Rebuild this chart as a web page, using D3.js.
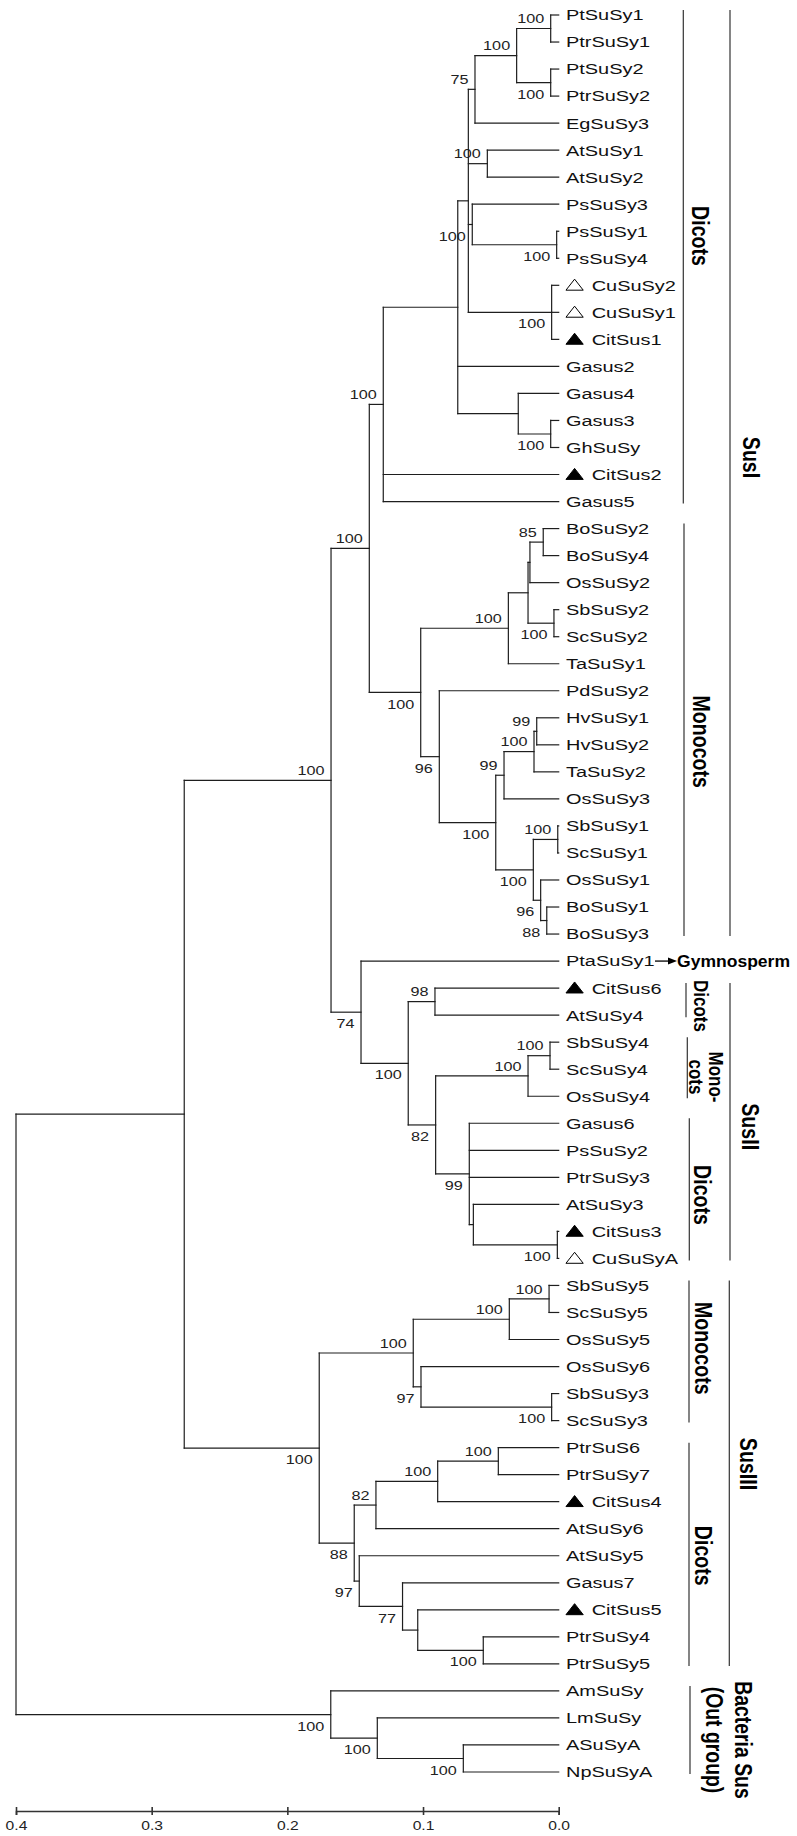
<!DOCTYPE html>
<html><head><meta charset="utf-8">
<script src="https://cdn.jsdelivr.net/npm/d3@7"></script>
<style>
body{margin:0;background:#fff}
svg{display:block}
text{font-family:"Liberation Sans",Arial,Helvetica,sans-serif}
</style></head><body>
<svg id="c" width="797" height="1836"></svg>
<script>
// ---------------- DATA ----------------
// internal nodes of the tree: id, parent, node height (distance units), bootstrap support
const nodeIds = ["root","nIn","nSusI_II","nSusIroot","nDic","nB","nA","n75","nPt","nPt1","nPt2","nAt","nPs","nPs14","nCu","nGa","nGa3Gh","nMono","nTa1","nBoSb","nBoOs","nBo24","nSbSc2","nPd","nMc2","nHvOs","nHvTa","nHvHv","nSbOsBo","nSbSc1","nOsBo","nBo13","n74","n100","nCit6At4","n82","nMonoII","nSbSc4","nDicII","nAt3Cit","nCit3Cu","nSusIII","nMonoIII","nOs5","nSbSc5","n97","nSbSc3","n88","n82b","nCit4","nPtr67","n97b","n77","nCit5","nPtr45","nOut","nLm","nNpA"];
const nodeParents = [null,"root","nIn","nSusI_II","nSusIroot","nDic","nB","nA","n75","nPt","nPt","nA","nA","nPs","nA","nB","nGa","nSusIroot","nMono","nTa1","nBoSb","nBoOs","nBoSb","nMono","nPd","nMc2","nHvOs","nHvTa","nMc2","nSbOsBo","nSbOsBo","nOsBo","nSusI_II","n74","n100","n100","n82","nMonoII","n82","nDicII","nAt3Cit","nIn","nSusIII","nMonoIII","nOs5","nMonoIII","n97","nSusIII","n88","n82b","nCit4","n88","n97b","n77","nCit5","root","nOut","nLm"];
const nodeHeights = [0.4,0.2760,0.1678,0.1396,0.1293,0.0744,0.0666,0.0617,0.0310,0.0059,0.0059,0.0526,0.0637,0.0015,0.0052,0.0298,0.0059,0.1017,0.0371,0.0226,0.0212,0.0114,0.0035,0.0880,0.0464,0.0403,0.0182,0.0162,0.0187,0.0007,0.0133,0.0088,0.1457,0.1109,0.0912,0.0907,0.0226,0.0064,0.0659,0.0629,0.0010,0.1765,0.1072,0.0364,0.0071,0.1015,0.0052,0.1507,0.1347,0.0892,0.0445,0.1470,0.1151,0.1039,0.0556,0.1680,0.1337,0.0703];
const nodeSupport = [null,null,100,100,100,null,null,75,100,100,100,100,100,100,100,null,100,100,100,null,null,85,100,96,100,99,100,99,100,100,96,88,74,100,98,82,100,100,99,null,100,100,100,100,100,97,100,88,82,100,100,97,77,null,100,100,100,100];

// leaves, top to bottom
const leafNames = ["PtSuSy1","PtrSuSy1","PtSuSy2","PtrSuSy2","EgSuSy3","AtSuSy1","AtSuSy2","PsSuSy3","PsSuSy1","PsSuSy4","CuSuSy2","CuSuSy1","CitSus1","Gasus2","Gasus4","Gasus3","GhSuSy","CitSus2","Gasus5","BoSuSy2","BoSuSy4","OsSuSy2","SbSuSy2","ScSuSy2","TaSuSy1","PdSuSy2","HvSuSy1","HvSuSy2","TaSuSy2","OsSuSy3","SbSuSy1","ScSuSy1","OsSuSy1","BoSuSy1","BoSuSy3","PtaSuSy1","CitSus6","AtSuSy4","SbSuSy4","ScSuSy4","OsSuSy4","Gasus6","PsSuSy2","PtrSuSy3","AtSuSy3","CitSus3","CuSuSyA","SbSuSy5","ScSuSy5","OsSuSy5","OsSuSy6","SbSuSy3","ScSuSy3","PtrSuS6","PtrSuSy7","CitSus4","AtSuSy6","AtSuSy5","Gasus7","CitSus5","PtrSuSy4","PtrSuSy5","AmSuSy","LmSuSy","ASuSyA","NpSuSyA"];
const leafParents = ["nPt1","nPt1","nPt2","nPt2","n75","nAt","nAt","nPs","nPs14","nPs14","nCu","nCu","nCu","nB","nGa","nGa3Gh","nGa3Gh","nDic","nDic","nBo24","nBo24","nBoOs","nSbSc2","nSbSc2","nTa1","nPd","nHvHv","nHvHv","nHvTa","nHvOs","nSbSc1","nSbSc1","nOsBo","nBo13","nBo13","n74","nCit6At4","nCit6At4","nSbSc4","nSbSc4","nMonoII","nDicII","nDicII","nDicII","nAt3Cit","nCit3Cu","nCit3Cu","nSbSc5","nSbSc5","nOs5","n97","nSbSc3","nSbSc3","nPtr67","nPtr67","nCit4","n82b","n97b","n77","nCit5","nPtr45","nPtr45","nOut","nLm","nNpA","nNpA"];
const leafMarkers = ["","","","","","","","","","","open","open","filled","","","","","filled","","","","","","","","","","","","","","","","","","","filled","","","","","","","","","filled","open","","","","","","","","","filled","","","","filled","","","","","",""];

// axis ticks
const tickValues = [0.4, 0.3, 0.2, 0.1, 0.0];

// clade annotations
const groupLabels = [["Dicots"],["Monocots"],["SusI"],["Dicots"],["Mono-","cots"],["Dicots"],["SusII"],["Monocots"],["Dicots"],["SusIII"],["Bacteria Sus","(Out group)"]];
const groupFirst = ["PtSuSy1","BoSuSy2","PtSuSy1","CitSus6","SbSuSy4","Gasus6","CitSus6","SbSuSy5","PtrSuS6","SbSuSy5","AmSuSy"];
const groupLast = ["Gasus5","BoSuSy3","BoSuSy3","AtSuSy4","OsSuSy4","CuSuSyA","CuSuSyA","ScSuSy3","PtrSuSy5","PtrSuSy5","NpSuSyA"];

// ---------------- LAYOUT ----------------
const groupBarX = [683.3,684,730,686,687.3,689.3,730,689,689,729.3,690];
const groupTextX = [[700.7],[701.7],[751.7],[701.7],[716.7,696.7],[702.3],[750.7],[704],[703.3],[748.3],[743.3,715]];
const groupTextY = [236,741.7,457.5,1006,1077,1195,1126.7,1348.3,1555.8,1464,1740];
const groupFont = [19.6,19.6,19.6,17,17,19.6,19.6,19.6,19.6,19.6,19.4];

const svg = d3.select("#c");
const x = d3.scaleLinear().domain([0.4, 0]).range([16, 558.7]);
const y = d3.scaleLinear().domain([0, leafNames.length - 1]).range([15, 1772]);
const leafIndex = new Map(leafNames.map((n,i)=>[n,i]));

const rows = nodeIds.map((id,i)=>({id, parent:nodeParents[i], h:nodeHeights[i], support:nodeSupport[i], leaf:false}))
  .concat(leafNames.map((n,i)=>({id:n, parent:leafParents[i], h:0, leaf:true, marker:leafMarkers[i], idx:i})));
const root = d3.stratify().id(d=>d.id).parentId(d=>d.parent)(rows);
root.eachAfter(n=>{
  if(n.data.leaf){ n.py = y(n.data.idx); }
  else { const ys = n.children.map(c=>c.py); n.py0 = d3.min(ys); n.py1 = d3.max(ys); n.py = (n.py0+n.py1)/2; }
  n.px = x(n.data.h);
});

const ink = "#1e1e1e";
const gt = svg.append("g").attr("fill","none").attr("stroke",ink).attr("stroke-width",1.2).attr("stroke-linecap","square");
gt.selectAll("path.h").data(root.descendants().filter(n=>n.parent)).join("path").attr("class","h")
  .attr("d", n=>`M${n.parent.px},${n.py}H${n.px}`);
gt.selectAll("path.v").data(root.descendants().filter(n=>n.children)).join("path").attr("class","v")
  .attr("d", n=>`M${n.px},${n.py0}V${n.py1}`);

// bootstrap values
svg.append("g").selectAll("text").data(root.descendants().filter(n=>n.data.support!=null && n.parent)).join("text")
  .attr("transform", n=>`translate(${n.px-6.5},${n.py < n.parent.py ? n.py-5.3 : n.py+16.1}) scale(1.2,1)`)
  .attr("text-anchor","end").attr("font-size",13.5).attr("fill","#222").text(n=>n.data.support);

// leaves
const leaves = root.leaves().sort((a,b)=>a.data.idx-b.data.idx);
const tri = d3.symbol().type(d3.symbolTriangle).size(70)();
const gl = svg.append("g");
gl.selectAll("path").data(leaves.filter(n=>n.data.marker)).join("path")
  .attr("d", tri)
  .attr("transform", n=>`translate(574.6,${n.py+1.2}) scale(1.36,1)`)
  .attr("fill", n=>n.data.marker==="filled" ? "#000" : "#fff")
  .attr("stroke", "#000").attr("stroke-width",1).attr("vector-effect","non-scaling-stroke");
gl.selectAll("text").data(leaves).join("text")
  .attr("transform", n=>`translate(${n.data.marker ? 591.7 : 566},${n.py}) scale(1.33,1)`)
  .attr("dy","0.36em").attr("font-size",15).attr("fill","#111").text(n=>n.data.id);

// Gymnosperm annotation
const pta = leaves[leafIndex.get("PtaSuSy1")];
svg.append("line").attr("x1",655).attr("x2",672).attr("y1",pta.py).attr("y2",pta.py).attr("stroke","#000").attr("stroke-width",1.3);
svg.append("path").attr("d",`M668,${pta.py-3.5}L677,${pta.py}L668,${pta.py+3.5}Z`).attr("fill","#000");
svg.append("text").attr("x",677).attr("y",pta.py).attr("dy","0.36em").attr("font-size",17).attr("font-weight","bold")
  .attr("textLength",113).attr("lengthAdjust","spacingAndGlyphs").attr("fill","#000").text("Gymnosperm");

// clade bars and labels
const gg = svg.append("g");
groupLabels.forEach((lines,i)=>{
  const y0 = y(leafIndex.get(groupFirst[i])) - 5, y1 = y(leafIndex.get(groupLast[i])) + 2;
  gg.append("line").attr("x1",groupBarX[i]).attr("x2",groupBarX[i]).attr("y1",y0).attr("y2",y1)
    .attr("stroke","#333").attr("stroke-width",1.2);
  lines.forEach((t,j)=>{
    gg.append("text").attr("transform",`translate(${groupTextX[i][j]},${groupTextY[i]}) rotate(90) scale(1,1.22)`)
      .attr("text-anchor","middle").attr("dy","0.36em").attr("font-size",groupFont[i]).attr("font-weight","bold")
      .attr("fill","#000").text(t);
  });
});

// axis
const axis = d3.axisBottom(x).tickValues(tickValues).tickFormat(d3.format(".1f")).tickSizeOuter(0).tickSize(4);
const ga = svg.append("g").attr("transform","translate(0,1811)").call(axis);
ga.attr("font-family",null);
ga.select(".domain").attr("stroke","#333").attr("stroke-width",1.6);
ga.selectAll(".tick line").attr("y1",-4).attr("y2",4).attr("stroke","#333").attr("stroke-width",1.6);
ga.selectAll(".tick text").attr("y",9).attr("dy","0.71em").attr("font-size",13.5).attr("fill","#222")
  .attr("transform","scale(1.16,1)");
</script>
</body></html>
